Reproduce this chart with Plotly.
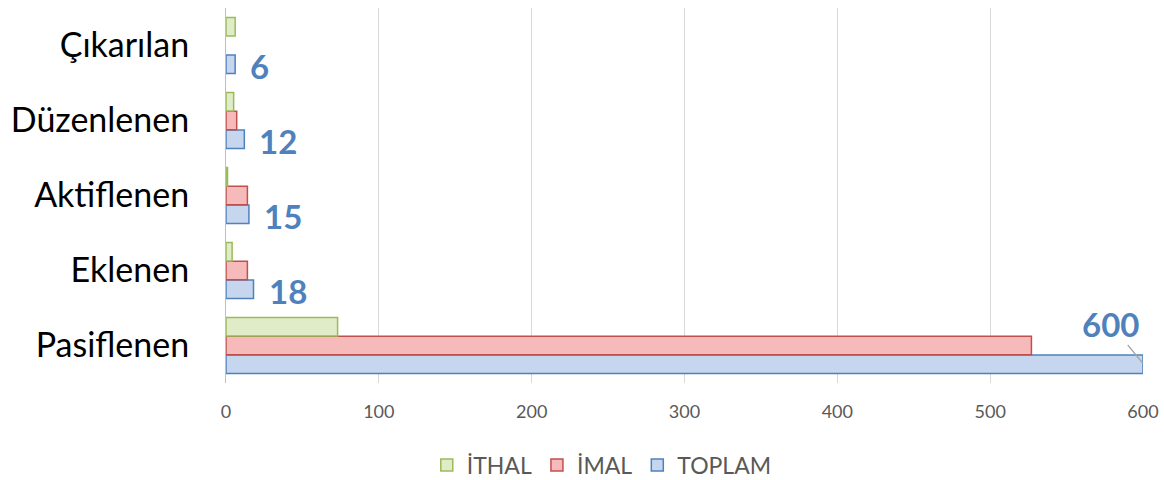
import plotly.graph_objects as go

categories = ["Pasiflenen", "Eklenen", "Aktiflenen", "Düzenlenen", "Çıkarılan"]
toplam = [600, 18, 15, 12, 6]
imal = [527, 14, 14, 7, 0]
ithal = [73, 4, 1, 5, 6]
x_ticks = [0, 100, 200, 300, 400, 500, 600]


def edge(vals, w=1.5):
    return [w if v > 0 else 0 for v in vals]


fig = go.Figure()
fig.add_trace(go.Bar(name="TOPLAM", y=categories, x=toplam, orientation="h",
                     marker=dict(color="#c6d6ee", line=dict(color="#4f81bd", width=edge(toplam)))))
fig.add_trace(go.Bar(name="İMAL", y=categories, x=imal, orientation="h",
                     marker=dict(color="#f6baba", line=dict(color="#c0504d", width=edge(imal)))))
fig.add_trace(go.Bar(name="İTHAL", y=categories, x=ithal, orientation="h",
                     marker=dict(color="#e0ecc8", line=dict(color="#9bbb59", width=edge(ithal)))))

label_font = dict(family="Lato", size=33, color="#4f81bd")
for cat, v in zip(categories, toplam):
    if v == max(toplam):
        fig.add_annotation(x=v, y=cat, text="<b>%d</b>" % v, showarrow=True,
                           arrowhead=0, arrowwidth=1.2, arrowcolor="#a6a6a6",
                           ax=-33, ay=-40, yshift=-18, font=label_font)
    else:
        fig.add_annotation(x=v, y=cat, text="<b>%d</b>" % v, showarrow=False,
                           xanchor="left", xshift=13, yshift=-20, font=label_font)

fig.update_layout(
    width=1164, height=480,
    paper_bgcolor="white", plot_bgcolor="white",
    barmode="group", bargap=0.25, bargroupgap=0.02,
    margin=dict(l=226, r=21, t=8, b=97, autoexpand=False),
    font=dict(family="Lato", color="#595959"),
    xaxis=dict(range=[0, 600], tickvals=x_ticks, showgrid=True, gridcolor="#d9d9d9",
               gridwidth=1, zeroline=False, showline=False, automargin=False,
               tickfont=dict(size=18, color="#595959"), ticklabelstandoff=16),
    yaxis=dict(categoryorder="array", categoryarray=categories, automargin=False,
               showline=True, linecolor="#bfbfbf", linewidth=1,
               tickfont=dict(size=34, color="#000000"), ticklabelstandoff=29,
               showgrid=False),
    legend=dict(orientation="h", xref="container", x=0.517, xanchor="center",
                y=-0.219, yanchor="middle",
                traceorder="reversed", font=dict(size=23, color="#595959")),
)

fig.write_html("out.html", config={"displayModeBar": False},
               post_script="document.body.style.margin='0';")
